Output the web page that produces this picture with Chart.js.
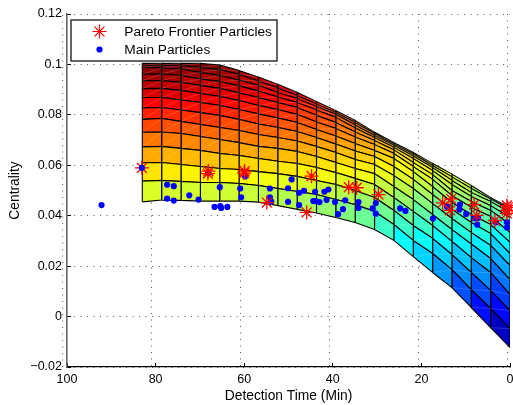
<!DOCTYPE html>
<html>
<head>
<meta charset="utf-8">
<style>html,body{margin:0;padding:0;background:#fff}canvas{display:block}</style>
<script src="https://cdn.jsdelivr.net/npm/chart.js@4/dist/chart.umd.js"></script>
</head>
<body>
<canvas id="c" width="513" height="405"></canvas>
<script>
const meshTimes = [83,78.63,74.26,69.89,65.53,61.16,56.79,52.42,48.05,43.68,39.32,34.95,30.58,26.21,21.84,17.47,13.11,8.74,4.37,0];
const row00 = [.0455,.0462,.0461,.0458,.0458,.0458,.0454,.0440,.0425,.0411,.0393,.0373,.0345,.0302,.0238,.0175,.0115,.0036,-.0044,-.0123];
const row01 = [.0537,.0540,.0536,.0532,.0532,.0528,.0520,.0508,.0496,.0484,.0464,.0444,.0417,.0365,.0302,.0250,.0186,.0107,.0032,-.0048];
const row02 = [.0610,.0611,.0603,.0595,.0587,.0583,.0575,.0567,.0556,.0540,.0524,.0500,.0472,.0421,.0361,.0310,.0246,.0175,.0103,.0024];
const row03 = [.0673,.0675,.0667,.0659,.0647,.0639,.0627,.0616,.0607,.0591,.0571,.0548,.0524,.0472,.0417,.0361,.0298,.0234,.0175,.0087];
const row04 = [.0731,.0732,.0726,.0714,.0702,.0690,.0675,.0667,.0655,.0635,.0611,.0587,.0567,.0516,.0464,.0405,.0345,.0288,.0230,.0147];
const row05 = [.0782,.0786,.0774,.0762,.0750,.0738,.0722,.0710,.0696,.0675,.0651,.0623,.0603,.0559,.0508,.0448,.0389,.0333,.0282,.0202];
const row06 = [.0827,.0829,.0819,.0809,.0798,.0782,.0764,.0750,.0734,.0710,.0684,.0657,.0635,.0595,.0544,.0484,.0425,.0373,.0329,.0250];
const row07 = [.0869,.0869,.0859,.0849,.0837,.0821,.0804,.0788,.0770,.0742,.0716,.0686,.0659,.0627,.0575,.0516,.0452,.0405,.0365,.0294];
const row08 = [.0904,.0905,.0897,.0885,.0873,.0857,.0837,.0821,.0802,.0772,.0746,.0712,.0682,.0647,.0595,.0544,.0480,.0433,.0397,.0333];
const row09 = [.0935,.0936,.0929,.0917,.0905,.0887,.0869,.0849,.0829,.0798,.0770,.0732,.0698,.0661,.0611,.0563,.0500,.0456,.0421,.0365];
const row10 = [.0961,.0962,.0956,.0942,.0932,.0915,.0895,.0871,.0849,.0819,.0790,.0748,.0710,.0671,.0627,.0579,.0524,.0476,.0440,.0393];
const row11 = [.0988,.0986,.0982,.0968,.0956,.0938,.0917,.0889,.0865,.0833,.0802,.0760,.0718,.0679,.0637,.0591,.0540,.0492,.0456,.0413];
const row12 = [.0996,.0997,.0996,.0988,.0980,.0960,.0934,.0907,.0877,.0843,.0809,.0770,.0726,.0684,.0645,.0599,.0554,.0508,.0466,.0425];
const row13 = [.1004,.1004,.1004,.1004,.0998,.0976,.0950,.0921,.0889,.0853,.0817,.0778,.0731,.0690,.0651,.0607,.0565,.0520,.0472,.0431];
const meshRows = [row00,row01,row02,row03,row04,row05,row06,row07,row08,row09,row10,row11,row12,row13];

const paretoTime = [83.1,68.1,68.2,60.0,59.9,54.9,44.8,45.9,36.4,34.6,29.7,15.2,13.3,13.5,8.1,7.5,3.4,0.7,0.7,0.5,0.7];
const paretoCentrality = [.0590,.0577,.0567,.0569,.0577,.0452,.0557,.0413,.0513,.0511,.0484,.0451,.0467,.0421,.0444,.0401,.0381,.0421,.0441,.0433,.0409];
const mainTime = [92.2,77.4,75.9,77.4,75.9,72.4,70.3,66.7,65.4,65.2,63.8,65.5,60.9,60.7,59.8,68.1,54.2,54.2,53.9,50.1,50.1,49.3,47.6,47.6,46.5,44.0,41.9,41.0,44.4,43.9,43.0,41.4,39.5,37.2,37.7,38.8,34.2,34.2,31.0,30.3,30.3,24.8,23.6,17.4,14.2,11.3,11.4,9.9,8.1,7.2,7.4,3.2,0.7,0.7];
const mainCentrality = [.0442,.0523,.0517,.0468,.0460,.0481,.0464,.0435,.0438,.0431,.0435,.0513,.0508,.0473,.0556,.0569,.0508,.0473,.0456,.0455,.0509,.0544,.0491,.0442,.0499,.0495,.0495,.0504,.0458,.0458,.0454,.0463,.0454,.0461,.0426,.0406,.0454,.0431,.0429,.0450,.0408,.0429,.0419,.0389,.0436,.0444,.0425,.0407,.0390,.0391,.0365,.0374,.0353,.0374];
const mainTopTime = [83.1];
const mainTopCentrality = [.0590];

const xTickLabels = ['0','20','40','60','80','100'];
const yTickLabels = ['\u22120.02','0','0.02','0.04','0.06','0.08','0.1','0.12'];
const legendLabels = ['Pareto Frontier Particles','Main Particles'];
const xAxisTitle = 'Detection Time (Min)';
const yAxisTitle = 'Centrality';

const FONT = '"Liberation Sans", Arial, sans-serif';
const all = meshRows.flat();
const zMin = Math.min(...all), zMax = Math.max(...all);
function jet(v){
  const t = (v - zMin) / (zMax - zMin);
  const c = f => Math.round(255 * Math.max(0, Math.min(1, f)));
  const r = Math.min(4*t - 1.5, -4*t + 4.5);
  const g = Math.min(4*t - 0.5, -4*t + 3.5);
  const b = Math.min(4*t + 0.5, -4*t + 2.5);
  return `rgb(${c(r)},${c(g)},${c(b)})`;
}

const datasets = [];
const toPts = (xs, ys) => xs.map((x, i) => ({x, y: ys[i]}));
const dotStyle = {pointStyle:'circle', pointRadius:3.1, pointBackgroundColor:'#0000ff', pointBorderWidth:0, showLine:false, clip:false};
datasets.push({label:'Main Particles', order:0, data:toPts(mainTopTime, mainTopCentrality), ...dotStyle});
datasets.push({label:'Pareto Frontier Particles', order:1, data:toPts(paretoTime, paretoCentrality), clip:false,
  pointStyle:'star', pointRadius:7, pointBorderColor:'#ff0000', pointBackgroundColor:'#ff0000', pointBorderWidth:1.3, showLine:false});
datasets.push({label:'Main Particles', order:2, data:toPts(mainTime, mainCentrality), ...dotStyle});
for (let r = 0; r < meshRows.length - 1; r++) {
  for (let c = 0; c < meshTimes.length - 1; c++) {
    const low = meshRows[r], up = meshRows[r+1];
    datasets.push({
      label:'surface', order:3, showLine:true, fill:'shape', tension:0,
      backgroundColor: jet(up[c+1]),
      borderColor:'#000', borderWidth:1.1, borderJoinStyle:'miter', pointRadius:0,
      data:[
        {x:meshTimes[c],y:low[c]},{x:meshTimes[c+1],y:low[c+1]},
        {x:meshTimes[c+1],y:up[c+1]},{x:meshTimes[c],y:up[c]},{x:meshTimes[c],y:low[c]}
      ]
    });
    datasets.push({
      label:'seam', order:2.5, showLine:true, fill:false, pointRadius:0,
      borderColor:'rgba(255,255,255,0.25)', borderWidth:0.7,
      data:[{x:meshTimes[c],y:low[c]},{x:meshTimes[c+1],y:up[c+1]}]
    });
  }
}
datasets.push({label:'grid', order:4, xAxisID:'xGrid', clip:false, showLine:true, pointRadius:0, fill:false,
  borderColor:'#555', borderWidth:1, borderDash:[1,5.5], data:[{x:100,y:-0.02},{x:100,y:0.12}]});

const noPad = s => { s.paddingLeft = 0; s.paddingRight = 0; s.paddingTop = 0; s.paddingBottom = 0; };
const legendPlugin = {
  id:'legendFrame',
  afterLayout(chart){
    const l = chart.legend;
    l.left = 71; l.right = 277; l.top = 21; l.bottom = 62; l.width = 206; l.height = 41;
  },
  afterDatasetsDraw(chart){
    const ctx = chart.ctx;
    ctx.save();
    ctx.fillStyle = '#fff'; ctx.strokeStyle = '#000'; ctx.lineWidth = 1.2;
    ctx.fillRect(71,20,206,41); ctx.strokeRect(71,20,206,41);
    ctx.strokeStyle = '#ff0000'; ctx.fillStyle = '#ff0000';
    Chart.helpers.drawPoint(ctx,{pointStyle:'star',radius:7,borderWidth:1.3},99.5,31.5);
    ctx.fillStyle = '#0000ff'; ctx.strokeStyle = '#0000ff';
    Chart.helpers.drawPoint(ctx,{pointStyle:'circle',radius:3.1,borderWidth:0},99.5,49.5);
    ctx.restore();
    chart.legend.draw();
  }
};

new Chart(document.getElementById('c'), {
  type:'scatter',
  data:{datasets},
  plugins:[legendPlugin],
  options:{
    responsive:false, animation:false, devicePixelRatio:1, events:[],
    layout:{autoPadding:false, padding:{top:14,right:3,left:0,bottom:0}},
    font:{family:FONT},
    plugins:{
      tooltip:{enabled:false},
      title:{display:false},
      legend:{
        display:true, position:'chartArea', align:'start',
        labels:{
          font:{family:FONT,size:13.7}, color:'#000', boxWidth:42, boxHeight:10, padding:4.5,
          generateLabels:()=>legendLabels.map(text=>({text,fontColor:'#000',fillStyle:'rgba(0,0,0,0)',strokeStyle:'rgba(0,0,0,0)',lineWidth:0,hidden:false}))
        }
      }
    },
    scales:{
      x:{
        type:'linear', position:'bottom', reverse:true, min:0, max:100,
        afterFit(s){ s.height = 38; noPad(s); },
        ticks:{stepSize:20, maxRotation:0, padding:9, color:'#000', font:{family:FONT,size:12.5},
          callback:(v)=>xTickLabels[Math.round(v/20)]},
        grid:{drawOnChartArea:false, drawTicks:true, tickLength:-4, tickColor:'#000', tickWidth:1},
        border:{display:true,color:'#000',width:1.2},
        title:{display:true,text:xAxisTitle,color:'#000',font:{family:FONT,size:13.8},padding:{top:0,bottom:1}}
      },
      xGrid:{
        type:'linear', position:'bottom', reverse:true, min:-0.517, max:99.03,
        afterFit(s){ s.height = 0; noPad(s); },
        ticks:{display:false, stepSize:20, includeBounds:false},
        grid:{drawOnChartArea:true, drawTicks:false, color:'#555', lineWidth:1},
        border:{display:false, dash:[1,5.5]}
      },
      y:{
        type:'linear', position:'left', min:-0.02, max:0.12,
        afterFit(s){ s.width = 67; noPad(s); },
        ticks:{stepSize:0.02, padding:9, color:'#000', font:{family:FONT,size:12.5},
          callback:(v)=>yTickLabels[Math.round((v+0.02)/0.02)]},
        grid:{drawOnChartArea:true, drawTicks:true, tickLength:-4, tickColor:'#000', color:'#555', lineWidth:1},
        border:{display:true,color:'#666',width:1.6,dash:[1,5.5]},
        title:{display:true,text:yAxisTitle,color:'#000',font:{family:FONT,size:13.8},padding:{top:7,bottom:0}}
      }
    }
  }
});
</script>
</body>
</html>
